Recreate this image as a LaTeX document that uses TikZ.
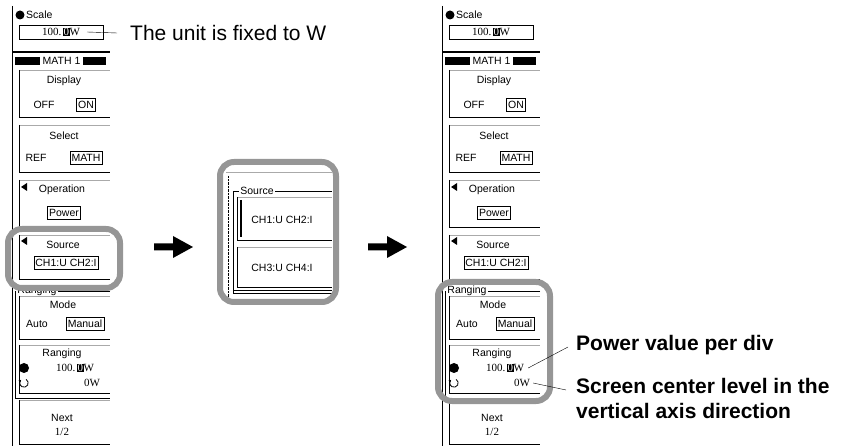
\documentclass[tikz,border=0pt]{standalone}
\usepackage{fontspec}
\setmainfont{Liberation Sans}
\newfontfamily\numfont{Liberation Serif}
\usetikzlibrary{arrows.meta}
\definecolor{frmgray}{RGB}{150,150,150}
\definecolor{ltgray}{RGB}{170,170,170}
\newcommand\hd[1]{{\setlength{\fboxsep}{0.5pt}\colorbox{black}{\textcolor{white}{#1}}}}
\tikzset{
  ui/.style={font=\fontsize{10.5}{12}\selectfont, inner sep=0pt},
  num/.style={font=\fontsize{11}{12}\numfont, inner sep=0pt},
  vbox/.style={ui, draw, inner xsep=1.5pt, inner ysep=1.5pt, minimum height=13pt},
  lbl/.style={font=\fontsize{21}{25}\selectfont, inner sep=0pt, anchor=west},
  blbl/.style={font=\fontsize{21}{25}\selectfont\bfseries, inner sep=0pt, anchor=west},
  grayframe/.style={draw=frmgray, line width=6pt, rounded corners=14pt},
  topedge/.style={draw=ltgray},
  blockarrow/.style={fill=black}
}
\newcommand\uibtn[2]{%
  \draw[topedge] (19,#1) -- (110,#1);
  \draw (19,#1) -- (19,#2);
  \draw[line width=1pt] (19,#2) -- (110,#2);}
\newcommand\lefttri[1]{\fill (21,#1) -- (27,#1-4) -- (27,#1+4) -- cycle;}
\newcommand\uipanel[2]{%
\begin{scope}[xshift=#1pt, name prefix=#2-]
  \draw (12,6) -- (12,446);
  \fill (20,15) circle (4.5pt);
  \node[ui,anchor=west] (scl) at (26,15) {Scale};
  \node[num,draw,minimum width=84pt,minimum height=14pt] (scale) at (61,32) {100.\,\hd{0}W};
  \draw[line width=1.2pt] (12,52) -- (110,52);
  \fill (15,57) rectangle (40,65);
  \fill (83,57) rectangle (106,65);
  \node[ui] (math) at (61.5,61) {MATH 1};
  % Display
  \uibtn{70}{118}
  \node[ui] (disp) at (64,81) {Display};
  \node[ui] (off) at (44,105) {OFF};
  \node[vbox] (on) at (86,105) {ON};
  % Select
  \uibtn{125}{173}
  \node[ui] (sel) at (64,136) {Select};
  \node[ui] (ref) at (36,158) {REF};
  \node[vbox] (mth) at (86,158) {MATH};
  % Operation
  \uibtn{180}{228}
  \lefttri{187}
  \node[ui] (op) at (62,190) {Operation};
  \node[vbox] (pow) at (64,213) {Power};
  % Source
  \uibtn{235}{280}
  \lefttri{241}
  \node[ui] (src) at (63,245) {Source};
  \node[vbox] (srcv) at (66,263) {CH1:U CH2:I};
  % Ranging frame
  \draw (110,291) -- (15,291) -- (15,398) -- (110,398);
  \node[ui,fill=white,inner xsep=1pt] (rlab) at (37,291) {Ranging};
  % Mode
  \uibtn{296}{340}
  \node[ui] (mode) at (63,305) {Mode};
  \node[ui] (auto) at (37,324) {Auto};
  \node[vbox] (man) at (85,324) {Manual};
  % Ranging
  \uibtn{345}{393}
  \node[ui] (rng) at (62,354) {Ranging};
  \fill (24,368) circle (5pt);
  \node[num] (v1) at (75,368) {100.\,\hd{0}W};
  \draw[line width=0.8pt,-{Latex[length=2.5pt,width=3pt]}] ([shift={(60:4.2pt)}]24,383) arc[start angle=60,end angle=-230,radius=4.2pt];
  \node[num] (v2) at (92,383) {0W};
  % Next
  \uibtn{400}{444}
  \node[ui] (nxt) at (62,418) {Next};
  \node[num] (pg) at (62,432) {1/2};
\end{scope}}
\begin{document}
\begin{tikzpicture}[x=1pt,y=-1pt]
\useasboundingbox (0,0) rectangle (841,446);
\uipanel{0}{L}
\uipanel{430}{R}
% left highlight and label
\draw[grayframe] (8,229) rectangle (120,288);
\node[lbl] (unit) at (130,33) {The unit is fixed to W};
\draw ([xshift=26pt]L-scale.center) -- ([xshift=-13pt]unit.west);
% arrows
\fill[blockarrow] (154,243.5) -- (173,243.5) -- (173,236) -- (193,247) -- (173,258) -- (173,250.5) -- (154,250.5) -- cycle;
\fill[blockarrow] (368,243.5) -- (387,243.5) -- (387,236) -- (407,247) -- (387,258) -- (387,250.5) -- (368,250.5) -- cycle;
% middle panel
\draw[topedge] (226,172) -- (332,172);
\draw[densely dotted] (228,176) -- (228,297);
\draw (332,191) -- (233,191) -- (233,293) -- (332,293);
\draw (233,290) -- (332,290);
\node[ui,fill=white,inner xsep=1pt] (srclab) at (257,191) {Source};
\draw[topedge] (237,197) -- (332,197);
\draw (237,197) -- (237,240) -- (332,240);
\draw[line width=2pt] (241,200) -- (241,237);
\node[ui] (ch12) at (282,220) {CH1:U CH2:I};
\draw[topedge] (237,247) -- (332,247);
\draw (237,247) -- (237,287) -- (332,287);
\node[ui] (ch34) at (282,268) {CH3:U CH4:I};
\draw[grayframe] (220,162) rectangle (336,302);
% right highlight and labels
\draw[grayframe] (438,282) rectangle (550,401);
\node[blbl] (pwr) at (576,345) {Power value per div};
\node[blbl] (scr1) at (576,386) {Screen center level in the};
\node[blbl] (scr2) at (576,411) {vertical axis direction};
\draw ([xshift=4pt]R-v1.east) -- ([xshift=-8pt,yshift=-2pt]pwr.west);
\draw ([xshift=3pt]R-v2.east) -- ([xshift=-10pt,yshift=-4pt]scr1.west);
\end{tikzpicture}
\end{document}
